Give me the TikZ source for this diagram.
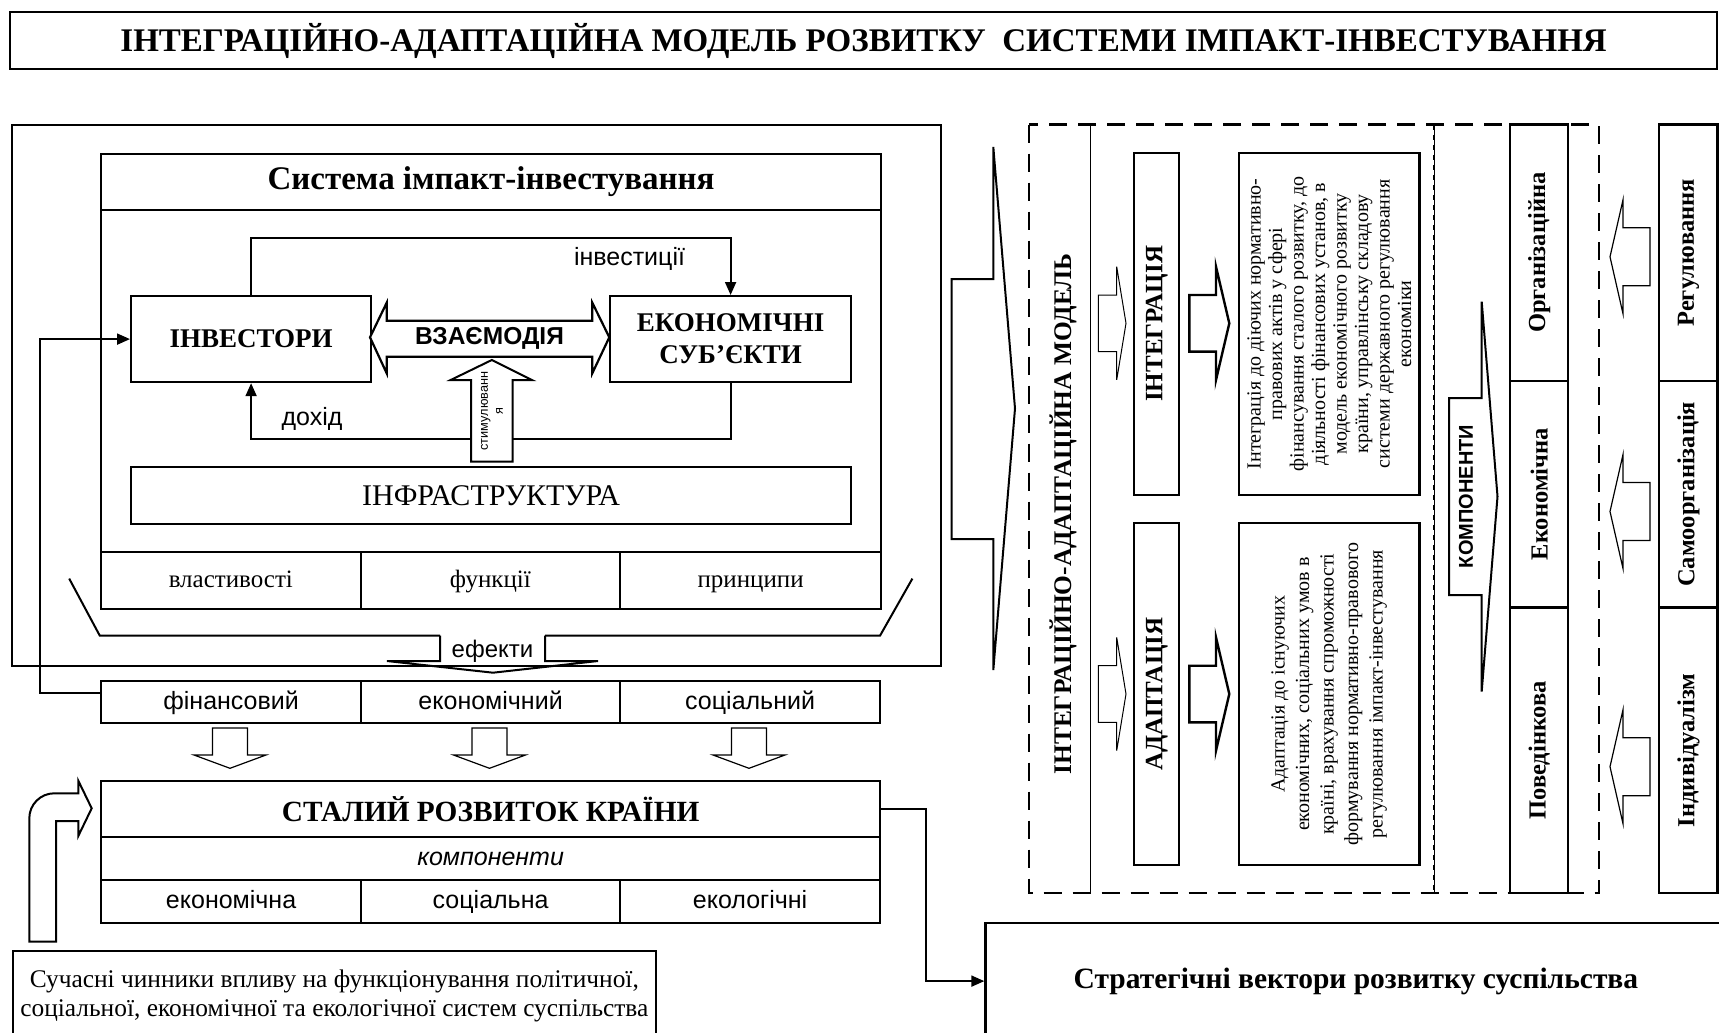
\documentclass[tikz,border=0pt]{standalone}
\usepackage{fontspec}
\setmainfont{Liberation Serif}
\setsansfont{Liberation Sans}
\usetikzlibrary{arrows.meta}
\newcommand\fsz[2]{\fontsize{#1pt}{#2pt}\selectfont}
\begin{document}
\begin{tikzpicture}[x=1pt,y=-1pt,
  bx/.style={draw, line width=2.2pt, inner sep=0pt, anchor=north west},
  rbx/.style={draw, line width=2.2pt, inner sep=0pt, rotate=90},
  cellt/.style={text height=14.6pt, text depth=0pt},
  conn/.style={line width=2pt},
  tip/.style={-{Triangle[length=13pt,width=11pt]}},
  hollow/.style={draw, line width=1.2pt, fill=white, line join=miter},
  boldhollow/.style={draw, line width=2.4pt, fill=white, line join=miter},
  dashline/.style={line width=2.5pt, dash pattern=on 18pt off 11pt},
  sfn/.style={font=\sffamily\fsz{25}{30}},
  serifbold/.style={font=\bfseries\fsz{24.5}{28}}
]
\useasboundingbox (0,0) rectangle (1719,1033);
\fill[white] (0,0) rectangle (1719,1033);

% ---------- title ----------
\node[bx, minimum width=1707pt, minimum height=57pt, font=\bfseries\fsz{33}{38}] (title) at (9,11)
  {ІНТЕГРАЦІЙНО-АДАПТАЦІЙНА МОДЕЛЬ РОЗВИТКУ~~СИСТЕМИ ІМПАКТ-ІНВЕСТУВАННЯ};

% ---------- left panel ----------
\node[bx, line width=2pt, minimum width=929pt, minimum height=540.7pt] (panel) at (11,124.3) {};

\node[bx, minimum width=780pt, minimum height=56pt, font=\bfseries\fsz{33}{36}] (systitle) at (100,153) {Система імпакт-інвестування};
\node[bx, minimum width=780pt, minimum height=342pt] (sysbody) at (100,209) {};
\node[bx, cellt, minimum width=259.5pt, minimum height=57pt, font=\fsz{25}{28}] (prop) at (100,551) {властивості};
\node[bx, cellt, minimum width=259.5pt, minimum height=57pt, font=\fsz{25}{28}] (func) at (359.5,551) {функції};
\node[bx, cellt, minimum width=261pt, minimum height=57pt, font=\fsz{25}{28}] (princ) at (619,551) {принципи};

\node[bx, minimum width=240pt, minimum height=86pt, font=\bfseries\fsz{27}{32}] (inv) at (130,295) {ІНВЕСТОРИ};
\node[bx, minimum width=241pt, minimum height=86pt, font=\bfseries\fsz{27}{32}, align=center] (eco) at (609,295) {ЕКОНОМІЧНІ\\СУБ’ЄКТИ};
\node[bx, minimum width=720pt, minimum height=57pt, font=\fsz{30}{34}] (infra) at (130,466) {ІНФРАСТРУКТУРА};

\draw[conn,tip] (inv.north) -- ++(0,-57.5) -| (eco.north);
\draw[conn,tip] (eco.south) -- ++(0,56) -| (inv.south);
\node[sfn] (invlbl) at (629.5,259) {інвестиції};
\node[sfn] (dohlbl) at (312,419) {дохід};

% interaction double arrow
\draw[line width=2.2pt, fill=white, line join=miter] (370,337.3) -- (386.7,302.7) -- (386.7,320.7) -- (592.3,320.7) -- (592.3,302.7)
  -- (609.3,337.3) -- (592.3,373.3) -- (592.3,356.7) -- (386.7,356.7) -- (386.7,373.3) -- cycle;
\node[font=\sffamily\bfseries\fsz{24.5}{28}] (inter) at (489.5,338.5) {ВЗАЄМОДІЯ};

% stimulation arrow
\draw[line width=2pt, fill=white, line join=miter] (491.8,360) -- (532,380) -- (512.7,380) -- (512.7,461.7) -- (471,461.7) -- (471,380) -- (450.7,380) -- cycle;
\node[rotate=90, align=center, font=\sffamily\fsz{12.7}{15}] (stim) at (492,411) {стимулюванн\\я};

% bracket and effects arrow
\draw[conn] (69.2,578.6) -- (99.8,635.7) -- (440,635.7);
\draw[conn] (545,635.7) -- (880,635.7) -- (912.4,578.6);
\draw[conn, line join=miter] (440,635.7) -- (440,661) -- (387,661) -- (493,672.7) -- (598,661) -- (545,661) -- (545,635.7);
\node[font=\sffamily\fsz{24}{28}] (eff) at (492.5,651) {ефекти};

% effects row
\node[bx, cellt, minimum width=260pt, minimum height=42pt, sfn] (fin) at (100,680) {фінансовий};
\node[bx, cellt, minimum width=259pt, minimum height=42pt, sfn] (econ2) at (360,680) {економічний};
\node[bx, cellt, minimum width=260pt, minimum height=42pt, sfn] (soc) at (619,680) {соціальний};

\draw[conn,tip] ([yshift=9pt]fin.west) -- ++(-60,0) |- (inv.west);

\foreach \c in {230,489.5,749}{
  \draw[hollow] (\c-17.5,728) -- (\c+17.5,728) -- (\c+17.5,755) -- (\c+36,755) -- (\c,768.3) -- (\c-36,755) -- (\c-17.5,755) -- cycle;
}

% sustainable development
\node[bx, minimum width=779pt, minimum height=56pt, font=\bfseries\fsz{29.3}{32}] (stal) at (100,780) {СТАЛИЙ РОЗВИТОК КРАЇНИ};
\node[bx, cellt, minimum width=779pt, minimum height=43pt, font=\sffamily\itshape\fsz{25}{30}] (comp) at (100,836) {компоненти};
\node[bx, cellt, minimum width=260pt, minimum height=43pt, sfn] (ec3) at (100,879) {економічна};
\node[bx, cellt, minimum width=259pt, minimum height=43pt, sfn] (soc3) at (360,879) {соціальна};
\node[bx, cellt, minimum width=260pt, minimum height=43pt, sfn] (eco3) at (619,879) {екологічні};

% bent arrow
\draw[line width=2pt, line join=miter] (29.3,941.7) -- (29.3,818.3) .. controls (29.3,804.5) and (40.5,793.3) .. (54.3,793.3)
  -- (78.3,793.3) -- (78.3,780.7) -- (91.7,808.3) -- (78.3,836) -- (78.3,821) -- (56,821) -- (56,941.7) -- cycle;

\node[bx, minimum width=643.5pt, minimum height=90pt, align=center, font=\fsz{25.4}{29}] (fact) at (11.5,950)
  {Сучасні чинники впливу на функціонування політичної,\\соціальної, економічної та екологічної систем суспільства};

\node[bx, minimum width=741pt, minimum height=116.6pt, font=\bfseries\fsz{29.5}{32}] (strat) at (984.3,921.7) {Стратегічні вектори розвитку суспільства};
\draw[conn,tip] (stal.east) -- ++(45,0) |- (strat.west);

% big arrow
\draw[line width=2pt, line join=miter] (993.3,147) -- (1015,408.5) -- (993.3,670) -- (993.3,539) -- (951.7,539) -- (951.7,279) -- (993.3,279) -- cycle;

% ---------- right part ----------
\draw[line width=1pt] (1090,124.5) -- (1090,893);
\draw[line width=1pt] (1434,124.5) -- (1434,893);
\draw[line width=2pt, dash pattern=on 5pt off 5pt] (1434,124.5) -- (1434,893);

\node[rotate=90, font=\bfseries\fsz{25.4}{28}] (mtitle) at (1063,514) {ІНТЕГРАЦІЙНО-АДАПТАЦІЙНА МОДЕЛЬ};

\node[rbx, minimum width=342.3pt, minimum height=45pt, font=\bfseries\fsz{25}{28}] (integ) at (1156.8,323.85) {ІНТЕГРАЦІЯ};
\node[rbx, minimum width=341.7pt, minimum height=45pt, font=\bfseries\fsz{25}{28}] (adapt) at (1156.8,694.15) {АДАПТАЦІЯ};

\node[rbx, minimum width=342.3pt, minimum height=180.5pt, align=center, font=\fsz{20}{21.5}] (integtxt) at (1329.25,323.85)
  {Інтеграція до діючих нормативно-\\правових актів у сфері\\фінансування сталого розвитку, до\\діяльності фінансових установ, в\\модель економічного розвитку\\країни, управлінську складову\\системи державного регулювання\\економіки};
\node[rbx, minimum width=341.7pt, minimum height=180.5pt, align=center, font=\fsz{20}{24.5}] (adapttxt) at (1329.25,694.15)
  {Адаптація до існуючих\\економічних, соціальних умов в\\країні, врахування спроможності\\формування нормативно-правового\\регулювання імпакт-інвестування};

\foreach \yc in {323.3,694}{
  \draw[hollow, line width=1pt] (1098.3,\yc-28.3) -- (1116.7,\yc-28.3) -- (1116.7,\yc-56.6) -- (1126,\yc) -- (1116.7,\yc+56.6) -- (1116.7,\yc+28.3) -- (1098.3,\yc+28.3) -- cycle;
  \draw[boldhollow] (1189.3,\yc-28.3) -- (1216,\yc-28.3) -- (1216,\yc-56.6) -- (1229.3,\yc) -- (1216,\yc+56.6) -- (1216,\yc+28.3) -- (1189.3,\yc+28.3) -- cycle;
}

% components arrow
\draw[line width=2pt, line join=miter, fill=white] (1481.7,301.6) -- (1497.5,496.5) -- (1481.7,691.5) -- (1481.7,595) -- (1449,595) -- (1449,398) -- (1481.7,398) -- cycle;
\node[rotate=90, font=\sffamily\bfseries\fsz{20}{24}] (kompl) at (1466,496.5) {КОМПОНЕНТИ};

% columns
\node[rbx, minimum width=256.5pt, minimum height=58.3pt, serifbold] (org) at (1539.15,252.75) {Організаційна};
\node[rbx, minimum width=226.5pt, minimum height=58.3pt, serifbold] (ekon) at (1539.15,494.25) {Економічна};
\node[rbx, minimum width=285.5pt, minimum height=58.3pt, serifbold] (poved) at (1539.15,750.25) {Поведінкова};

\node[rbx, minimum width=256.5pt, minimum height=58.2pt, serifbold] (reg) at (1688.4,252.75) {Регулювання};
\node[rbx, minimum width=226.5pt, minimum height=58.2pt, serifbold] (selforg) at (1688.4,494.25) {Самоорганізація};
\node[rbx, minimum width=285.5pt, minimum height=58.2pt, serifbold] (indiv) at (1688.4,750.25) {Індивідуалізм};

\foreach \yc in {256.8,511.5,766.7}{
  \draw[hollow] (1650,\yc-29) -- (1623,\yc-29) -- (1623,\yc-57) -- (1610,\yc) -- (1623,\yc+57) -- (1623,\yc+29) -- (1650,\yc+29) -- cycle;
}

\draw[dashline] (1029,124.5) rectangle (1599,893);
\end{tikzpicture}
\end{document}
